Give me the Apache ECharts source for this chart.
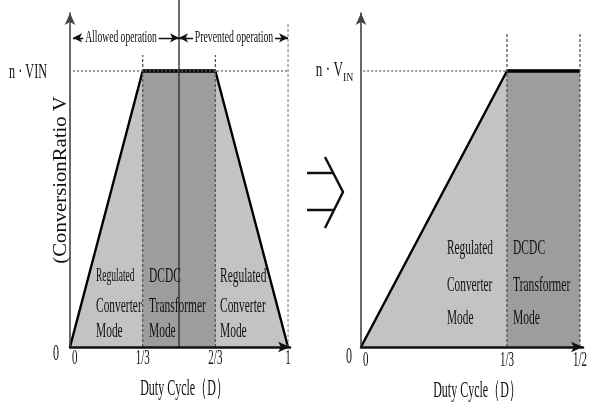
<!DOCTYPE html>
<html>
<head>
<meta charset="utf-8">
<script src="https://cdn.jsdelivr.net/npm/echarts@6/dist/echarts.min.js"></script>
<style>
  html, body { margin: 0; padding: 0; background: #fff; }
  #chart { width: 596px; height: 410px; }
</style>
</head>
<body>
<div id="chart"></div>
<script>
// left panel: whole duty cycle range
const leftDuty = [0, 1 / 3, 2 / 3, 1];
const leftRatio = [0, 1, 1, 0];
const leftTicks = ["0", "1/3", "2/3", "1"];
const leftBand = [1 / 3, 2 / 3]; // DCDC transformer region

// right panel: duty cycle limited to 1/2
const rightDuty = [0, 1 / 3, 1 / 2];
const rightRatio = [0, 1, 1];
const rightTicks = ["0", "1/3", "1/2"];
const rightBand = [1 / 3, 1 / 2];

const regulatedText = ["Regulated", "Converter", "Mode"];
const dcdcText = ["DCDC", "Transformer", "Mode"];

const SERIF = '"Liberation Serif", "DejaVu Serif", serif';
const LIGHT = "#c3c3c3";
const DARK = "#9d9d9d";

const chart = echarts.init(document.getElementById("chart"));

function pts(xs, ys) {
  return xs.map((x, i) => [x, ys[i]]);
}

// thin guide line (dashed / dotted / solid), drawn through the axes
function guide(g, data, type, color, width) {
  return {
    type: "line",
    xAxisIndex: g,
    yAxisIndex: g,
    data: data,
    symbol: "none",
    clip: false,
    silent: true,
    z: 4,
    lineStyle: { color: color, width: width, type: type },
  };
}

function xAxisFor(g, max) {
  return {
    type: "value",
    gridIndex: g,
    min: 0,
    max: max,
    z: 6,
    axisLine: {
      show: true,
      symbol: ["none", "arrow"],
      symbolSize: [8, 12],
      lineStyle: { color: "#111", width: 2.5 },
    },
    axisTick: { show: false },
    splitLine: { show: false },
    axisLabel: { show: false },
  };
}

function yAxisFor(g) {
  return {
    type: "value",
    gridIndex: g,
    min: 0,
    max: 1.21,
    z: 6,
    axisLine: {
      show: true,
      onZero: false,
      symbol: ["none", "arrow"],
      symbolSize: [8, 12],
      lineStyle: { color: "#444", width: 1.6 },
    },
    axisTick: { show: false },
    axisLabel: { show: false },
    splitLine: { show: false },
  };
}

// the source text is tall and narrow, so fonts get squeezed horizontally
function label(text, x, y, size, sx, align, extra) {
  return Object.assign({
    type: "text",
    x: x,
    y: y,
    scaleX: sx,
    z: 20,
    style: {
      text: text,
      fontFamily: SERIF,
      fontSize: size,
      fill: "#111",
      align: align,
      textAlign: align,
      verticalAlign: "middle",
      textVerticalAlign: "middle",
    },
  }, extra || {});
}

function modeBlock(lines, x, ys, size, sx) {
  return lines.map((t, i) => label(t, x, ys[i], size, sx, "left"));
}

function chevron(points) {
  return {
    type: "polyline",
    z: 20,
    shape: { points: points },
    style: { stroke: "#111", lineWidth: 2.5, fill: null },
  };
}

const option = {
  animation: false,
  backgroundColor: "#fff",
  grid: [
    { left: 70, width: 220, top: 13, bottom: 63 },
    { left: 361, width: 222, top: 13, bottom: 63 },
  ],
  xAxis: [xAxisFor(0, 1.009), xAxisFor(1, 0.507)],
  yAxis: [yAxisFor(0), yAxisFor(1)],
  series: [
    // left: trapezoid conversion ratio
    {
      type: "line",
      xAxisIndex: 0,
      yAxisIndex: 0,
      data: pts(leftDuty, leftRatio),
      symbol: "none",
      z: 2,
      lineStyle: { color: "#000", width: 2.4 },
      areaStyle: { color: LIGHT, opacity: 1 },
    },
    {
      type: "line",
      xAxisIndex: 0,
      yAxisIndex: 0,
      data: leftBand.map((d) => [d, 1]),
      symbol: "none",
      z: 3,
      lineStyle: { color: "#000", width: 3.6 },
      areaStyle: { color: DARK, opacity: 1 },
    },
    // right: ramp then flat
    {
      type: "line",
      xAxisIndex: 1,
      yAxisIndex: 1,
      data: pts(rightDuty, rightRatio),
      symbol: "none",
      z: 2,
      lineStyle: { color: "#000", width: 2.4 },
      areaStyle: { color: LIGHT, opacity: 1 },
    },
    {
      type: "line",
      xAxisIndex: 1,
      yAxisIndex: 1,
      data: rightBand.map((d) => [d, 1]),
      symbol: "none",
      z: 3,
      lineStyle: { color: "#000", width: 3.6 },
      areaStyle: { color: DARK, opacity: 1 },
    },
    // guides, left
    guide(0, [[1 / 3, 0], [1 / 3, 1.058]], [3, 2], "#555", 1.3),
    guide(0, [[2 / 3, 0], [2 / 3, 1.058]], [3, 2], "#555", 1.3),
    guide(0, [[1, 0], [1, 1.178]], [3, 2], "#777", 1),
    guide(0, [[0.014, 1], [1, 1]], [2, 2], "#666", 1.3),
    guide(0, [[0.5, 0], [0.5, 1.257]], "solid", "#333", 1.4),
    // guides, right
    guide(1, [[1 / 3, 0], [1 / 3, 1.138]], [3, 2], "#555", 1.3),
    guide(1, [[1 / 2, 0], [1 / 2, 1.138]], [3, 2], "#555", 1.3),
    guide(1, [[0.005, 1], [1 / 3, 1]], [2, 2], "#666", 1.3),
    // operation range arrows
    {
      type: "line",
      xAxisIndex: 0,
      yAxisIndex: 0,
      data: [],
      markLine: {
        silent: true,
        symbol: ["arrow", "arrow"],
        symbolSize: [7, 9],
        label: { show: false },
        lineStyle: { color: "#111", width: 1.4, type: "solid" },
        data: [
          [{ coord: [0.014, 1.12] }, { coord: [0.5, 1.12] }],
          [{ coord: [0.5, 1.12] }, { coord: [1, 1.12] }],
        ],
      },
    },
  ],
};

chart.setOption(option);

// texts; tick labels follow the axes
const texts = [
  label("Allowed operation", 121, 38, 16, 0.6, "center"),
  label("Prevented operation", 234, 38, 16, 0.61, "center"),
  label("n · VIN", 47, 73, 20, 0.61, "right"),
  label("0", 56, 354, 24, 0.5, "center"),
  label("n · V", 343, 71, 20, 0.66, "right"),
  label("IN", 343, 78, 13, 0.75, "left"),
  label("0", 349, 357, 24, 0.5, "center"),
  label("Duty Cycle（D）", 184, 389, 24, 0.5, "center"),
  label("Duty Cycle（D）", 477, 391, 24, 0.5, "center"),
  label("(ConversionRatio V", 61, 180, 18, 1.15, "center", { rotation: Math.PI / 2 }),
];
texts[0].style.backgroundColor = "#fff";
texts[0].style.padding = [0, 3];
texts[1].style.backgroundColor = "#fff";
texts[1].style.padding = [0, 3];

const leftMode = [276, 306, 331];
const rightMode = [248, 285, 318];
const modes = [].concat(
  [label(regulatedText[0], 96, leftMode[0], 19, 0.5, "left")],
  modeBlock(regulatedText.slice(1), 96, leftMode.slice(1), 22, 0.52),
  modeBlock(dcdcText, 149, leftMode, 22, 0.52),
  modeBlock(regulatedText, 220, leftMode, 22, 0.52),
  modeBlock(regulatedText, 447, rightMode, 21, 0.54),
  modeBlock(dcdcText, 513, rightMode, 21, 0.55)
);

function tickLabels(g, duty, names, y) {
  return duty.map((d, i) => {
    const x = chart.convertToPixel({ xAxisIndex: g }, d);
    return label(names[i], i === 0 ? x + 2 : x, y, 20, 0.55, i === 0 ? "left" : "center");
  });
}

const ticks = tickLabels(0, leftDuty, leftTicks, 359).concat(
  tickLabels(1, rightDuty, rightTicks, 361)
);

// "implies" arrow between the panels
const implies = [
  chevron([[307, 173], [333, 173]]),
  chevron([[307, 210], [333, 210]]),
  chevron([[325, 157], [343, 192], [325, 228]]),
];

chart.setOption({ graphic: texts.concat(modes, ticks, implies) });
</script>
</body>
</html>
